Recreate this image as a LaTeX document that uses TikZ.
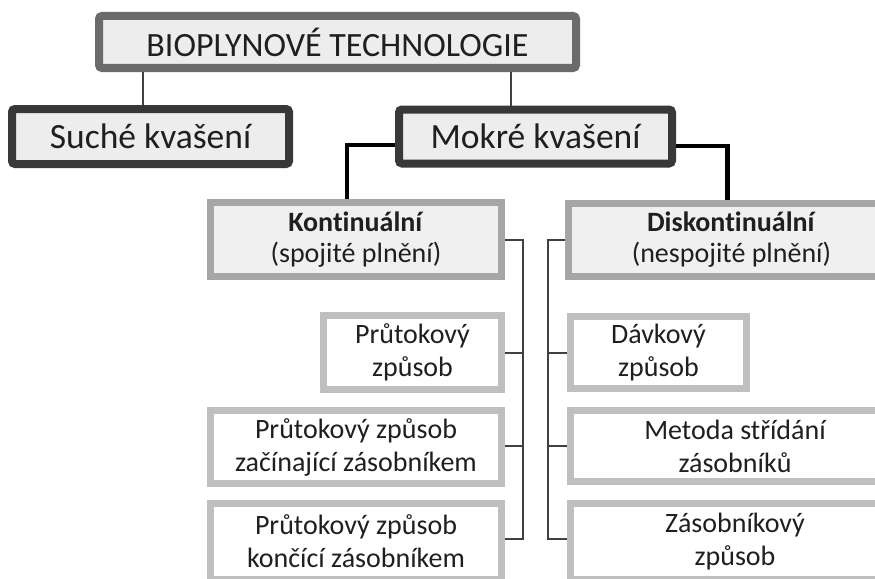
\documentclass[tikz,border=0pt]{standalone}
\usepackage{fontspec}
\setmainfont[Ligatures=NoCommon]{Carlito}
\begin{document}
\begin{tikzpicture}[x=1pt,y=-1pt,
  txt/.style={text=black!88, align=center, inner sep=0pt},
  topbox/.style={txt, draw=black!58, fill=black!7, line width=8pt, rounded corners=3pt,
     font=\fontsize{34}{40}\selectfont},
  midbox/.style={txt, draw=black!78, fill=black!7, line width=8pt, rounded corners=3pt,
     font=\fontsize{35.5}{40}\selectfont},
  typebox/.style={txt, draw=black!35, fill=black!6, line width=7pt,
     font=\fontsize{28}{31}\selectfont},
  leafbox/.style={txt, draw=black!25, fill=white, line width=7pt,
     font=\fontsize{28}{33}\selectfont},
  thin/.style={draw=black!75, line width=2pt},
  thick/.style={draw=black, line width=4.5pt}]
\useasboundingbox (0,0) rectangle (875,578);
\clip (0,0) rectangle (875,578);
\fill[white] (0,0) rectangle (875,578);

\node[topbox, minimum width=477pt, minimum height=52pt] (top) at (337.5,42) {BIOPLYNOVÉ TECHNOLOGIE};
\node[midbox, minimum width=277pt, minimum height=55pt] (dry) at (150.5,136.5) {Suché kvašení};
\node[midbox, minimum width=273pt, minimum height=54pt] (wet) at (535.5,136.5) {Mokré kvašení};

\node[typebox, minimum width=291pt, minimum height=74pt] (kont) at (356,239.5) {\textbf{Kontinuální}\\(spojité plnění)};
\node[typebox, minimum width=326pt, minimum height=73pt] (disk) at (731.5,240) {\textbf{Diskontinuální}\\(nespojité plnění)};

\node[leafbox, minimum width=178pt, minimum height=74pt] (p1) at (412.5,352.5) {Průtokový\\způsob};
\node[leafbox, minimum width=291pt, minimum height=73pt] (p2) at (356,447) {Průtokový způsob\\začínající zásobníkem};
\node[leafbox, minimum width=291pt, minimum height=76pt] (p3) at (356,541.5) {Průtokový způsob\\končící zásobníkem};

\node[leafbox, minimum width=176pt, minimum height=72pt] (r1) at (658.5,352.5) {Dávkový\\způsob};
\node[leafbox, minimum width=329pt, minimum height=71pt] (r2) at (735,446) {Metoda střídání\\zásobníků};
\node[leafbox, minimum width=329pt, minimum height=76pt] (r3) at (735,541.5) {Zásobníkový\\způsob};

% top connectors
\draw[thin] ([xshift=-7.5pt]dry.north) -- ([xshift=-7.5pt]dry.north |- top.south);
\draw[thin] ([xshift=-24.5pt]wet.north) -- ([xshift=-24.5pt]wet.north |- top.south);

% thick connectors
\draw[thick] ([yshift=-8.5pt]wet.west) -| ([xshift=-9pt]kont.north);
\draw[thick] ([yshift=-9.5pt]wet.east) -| ([xshift=-4pt]disk.north);

% brackets
\coordinate (lb) at (523,0);
\coordinate (rb) at (548,0);
\draw[thin] (kont.east) -- (kont.east -| lb) -- ([yshift=2.5pt]p3.east -| lb) -- ([yshift=2.5pt]p3.east);
\draw[thin] (p1.east) -- (p1.east -| lb);
\draw[thin] ([yshift=1pt]p2.east) -- ([yshift=1pt]p2.east -| lb);
\draw[thin] (disk.west) -- (disk.west -| rb) -- ([yshift=2.5pt]r3.west -| rb) -- ([yshift=2.5pt]r3.west);
\draw[thin] (r1.west) -- (r1.west -| rb);
\draw[thin] (r2.west) -- (r2.west -| rb);
\end{tikzpicture}
\end{document}
